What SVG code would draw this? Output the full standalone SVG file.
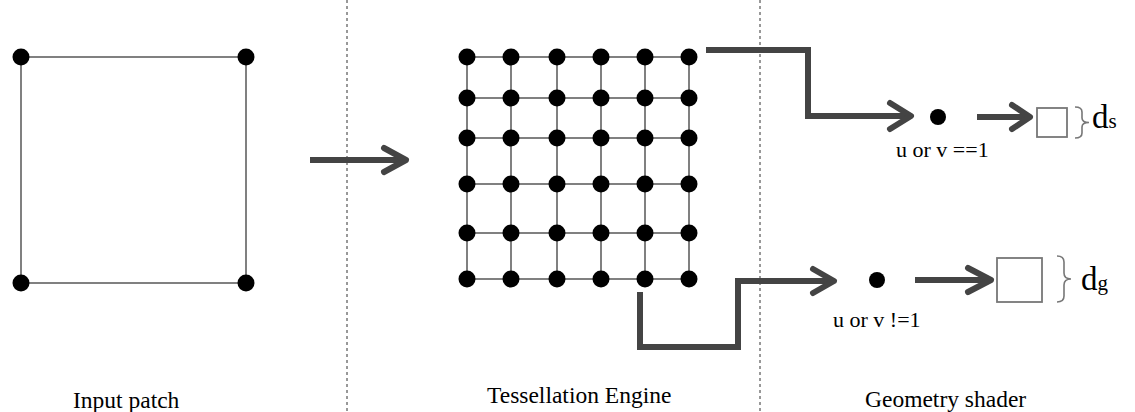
<svg xmlns="http://www.w3.org/2000/svg" width="1135" height="412" viewBox="0 0 1135 412">
<style>
.dot{fill:#000}
.thin{stroke:#808080;stroke-width:2;fill:none}
.sep{stroke:#333;stroke-width:1;stroke-dasharray:3,3;fill:none}
.conn{stroke:#444;stroke-width:6;fill:none;stroke-linejoin:miter}
.head{stroke:#444;stroke-width:6;fill:none;stroke-linecap:round;stroke-linejoin:round}
.box{stroke:#777;stroke-width:1.8;fill:#fff}
.brace{stroke:#777;stroke-width:1.6;fill:none}
.lbl{font-family:"Liberation Serif","Times New Roman",serif;font-size:23.5px;fill:#000}
.cond{font-family:"Liberation Serif","Times New Roman",serif;font-size:22px;fill:#000}
.d{font-family:"Liberation Serif","Times New Roman",serif;font-size:33px;fill:#000}
</style>
<rect width="1135" height="412" fill="#fff"/>
<g id="separators">
<line class="sep" x1="347" y1="0" x2="347" y2="412"/>
<line class="sep" x1="760" y1="0" x2="760" y2="412"/>
</g>
<g id="input-patch">
<rect class="thin" x="21" y="57" width="225" height="226"/>
<circle class="dot" cx="21" cy="57" r="8.5"/>
<circle class="dot" cx="246" cy="57" r="8.5"/>
<circle class="dot" cx="21" cy="283" r="8.5"/>
<circle class="dot" cx="246" cy="283" r="8.5"/>
</g>
<g id="tessellated-grid">
<g class="thin">
<line x1="467" y1="57" x2="689" y2="57"/>
<line x1="467" y1="98" x2="689" y2="98"/>
<line x1="467" y1="138" x2="689" y2="138"/>
<line x1="467" y1="184" x2="689" y2="184"/>
<line x1="467" y1="233" x2="689" y2="233"/>
<line x1="467" y1="279" x2="689" y2="279"/>
<line x1="467" y1="57" x2="467" y2="279"/>
<line x1="511" y1="57" x2="511" y2="279"/>
<line x1="557" y1="57" x2="557" y2="279"/>
<line x1="601" y1="57" x2="601" y2="279"/>
<line x1="645" y1="57" x2="645" y2="279"/>
<line x1="689" y1="57" x2="689" y2="279"/>
</g>
<g class="dot">
<circle cx="467" cy="57" r="8.5"/><circle cx="511" cy="57" r="8.5"/><circle cx="557" cy="57" r="8.5"/><circle cx="601" cy="57" r="8.5"/><circle cx="645" cy="57" r="8.5"/><circle cx="689" cy="57" r="8.5"/>
<circle cx="467" cy="98" r="8.5"/><circle cx="511" cy="98" r="8.5"/><circle cx="557" cy="98" r="8.5"/><circle cx="601" cy="98" r="8.5"/><circle cx="645" cy="98" r="8.5"/><circle cx="689" cy="98" r="8.5"/>
<circle cx="467" cy="138" r="8.5"/><circle cx="511" cy="138" r="8.5"/><circle cx="557" cy="138" r="8.5"/><circle cx="601" cy="138" r="8.5"/><circle cx="645" cy="138" r="8.5"/><circle cx="689" cy="138" r="8.5"/>
<circle cx="467" cy="184" r="8.5"/><circle cx="511" cy="184" r="8.5"/><circle cx="557" cy="184" r="8.5"/><circle cx="601" cy="184" r="8.5"/><circle cx="645" cy="184" r="8.5"/><circle cx="689" cy="184" r="8.5"/>
<circle cx="467" cy="233" r="8.5"/><circle cx="511" cy="233" r="8.5"/><circle cx="557" cy="233" r="8.5"/><circle cx="601" cy="233" r="8.5"/><circle cx="645" cy="233" r="8.5"/><circle cx="689" cy="233" r="8.5"/>
<circle cx="467" cy="279" r="8.5"/><circle cx="511" cy="279" r="8.5"/><circle cx="557" cy="279" r="8.5"/><circle cx="601" cy="279" r="8.5"/><circle cx="645" cy="279" r="8.5"/><circle cx="689" cy="279" r="8.5"/>
</g>
</g>
<g id="edge-vertex">
<circle class="dot" cx="938" cy="117" r="8"/>
<text class="cond" x="896" y="157">u or v ==1</text>
</g>
<g id="edge-quad">
<rect class="box" x="1037" y="108" width="30" height="29"/>
<path class="brace" d="M1075,107 Q1082,107 1082,112 L1082,118 Q1082,122.5 1089,122.5 Q1082,122.5 1082,127 L1082,133 Q1082,138 1075,138"/>
<text class="d" x="1092" y="128">d<tspan font-size="21">s</tspan></text>
</g>
<g id="inner-vertex">
<circle class="dot" cx="877" cy="280" r="8"/>
<text class="cond" x="833" y="327">u or v !=1</text>
</g>
<g id="inner-quad">
<rect class="box" x="997" y="258" width="45" height="44"/>
<path class="brace" d="M1057,256 Q1064,256 1064,262 L1064,273 Q1064,279 1071,279 Q1064,279 1064,285 L1064,296 Q1064,302 1057,302"/>
<text class="d" x="1081" y="290">d<tspan font-size="21">g</tspan></text>
</g>
<g id="connectors">
<path class="conn" d="M310,160 H405"/>
<path class="head" d="M384,148 L406,160 L384,172"/>
<path class="conn" d="M706,50 H808 V116 H910"/>
<path class="head" d="M890,103 L911,116 L890,129"/>
<path class="conn" d="M977,117 H1028"/>
<path class="head" d="M1012,105 L1030,117 L1012,129"/>
<path class="conn" d="M640,292 V347 H738 V281 H833"/>
<path class="head" d="M813,269 L834,281 L813,293"/>
<path class="conn" d="M915,280 H990"/>
<path class="head" d="M968,268 L991,280 L968,292"/>
</g>
<g id="labels">
<text class="lbl" x="73" y="408">Input patch</text>
<text class="lbl" x="487" y="403">Tessellation Engine</text>
<text class="lbl" x="865" y="407">Geometry shader</text>
</g>
</svg>
